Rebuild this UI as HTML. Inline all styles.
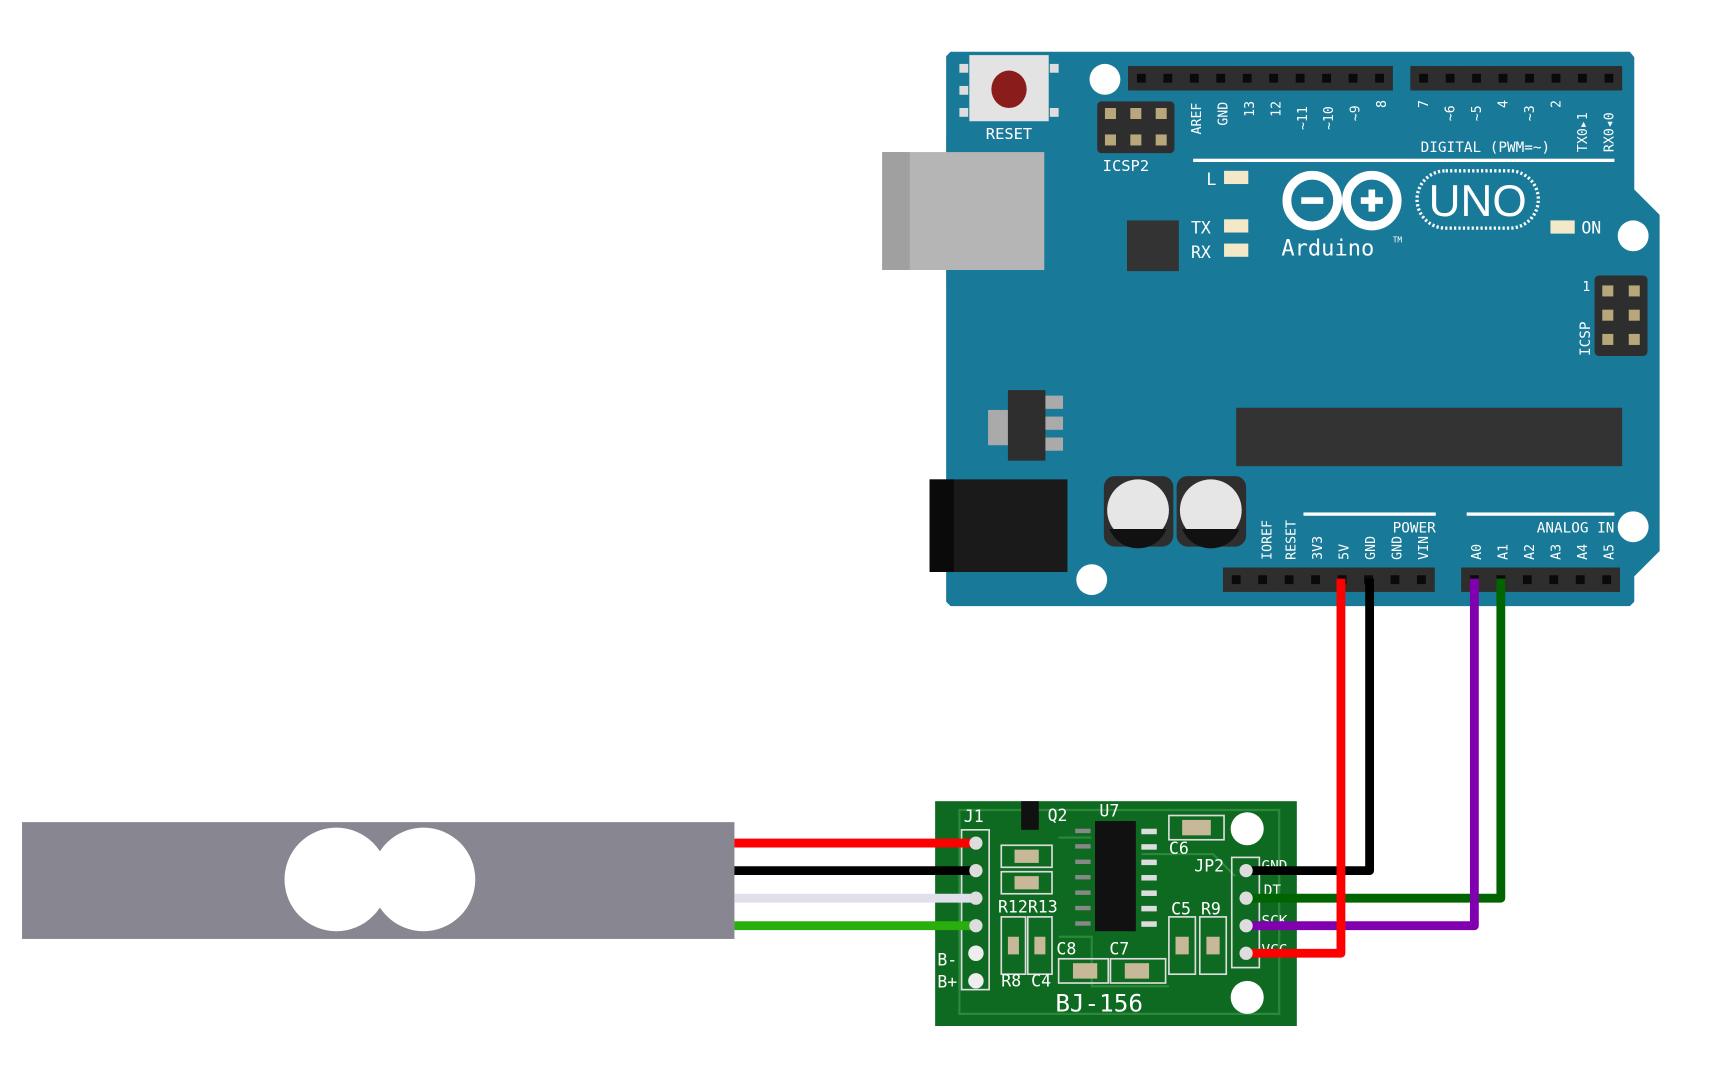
<!DOCTYPE html>
<html><head><meta charset="utf-8"><style>
html,body{margin:0;padding:0;background:#fff;width:1728px;height:1080px;overflow:hidden}
svg{display:block}
text{font-family:"DejaVu Sans Mono","Liberation Mono",monospace;fill:#fff}
</style></head><body>
<svg width="1728" height="1080" viewBox="0 0 1567 980" preserveAspectRatio="none" xmlns="http://www.w3.org/2000/svg">
<defs>
<g id="pin"><rect x="-12" y="0" width="24" height="22" fill="#2e2e2e"/><rect x="-4" y="7" width="8" height="8" fill="#0a0a0a"/></g>
<g id="pad"><rect x="-5" y="-5" width="10" height="10" fill="#b8a77a"/></g>
</defs>
<rect x="858" y="125" width="16" height="133" fill="#c9c9c9"/>
<path d="M862,47 L1478,47 L1482,52 L1482,172 L1505,195 L1505,500 L1482,523 L1482,546 L1478,550 L862,550 L858,546 L858,51 Z" fill="#187998"/>
<rect x="800" y="138" width="147" height="107" fill="#b5b5b5"/>
<rect x="800" y="138" width="25" height="107" fill="#a0a0a0"/>
<rect x="870" y="58" width="8" height="8" fill="#ddd"/><rect x="870" y="78" width="8" height="8" fill="#ddd"/><rect x="870" y="98" width="8" height="8" fill="#ddd"/>
<rect x="952" y="58" width="8" height="8" fill="#ddd"/><rect x="952" y="98" width="8" height="8" fill="#ddd"/>
<rect x="879" y="50" width="72" height="60" fill="#e3e3e3"/>
<ellipse cx="915" cy="81" rx="16" ry="17" fill="#8b1c1c"/>
<text x="915" y="126" font-size="14" text-anchor="middle">RESET</text>
<circle cx="1002" cy="72" r="14" fill="#fff"/>
<circle cx="1481" cy="214" r="14" fill="#fff"/>
<circle cx="1481" cy="478" r="14" fill="#fff"/>
<circle cx="990" cy="526" r="14" fill="#fff"/>
<rect x="995" y="92" width="70" height="47" rx="4" fill="#2e2e2e"/>
<use href="#pad" x="1007" y="103"/><use href="#pad" x="1030" y="103"/><use href="#pad" x="1053" y="103"/>
<use href="#pad" x="1007" y="127"/><use href="#pad" x="1030" y="127"/><use href="#pad" x="1053" y="127"/>
<text x="1021" y="155" font-size="14" text-anchor="middle">ICSP2</text>
<rect x="1023" y="60" width="240" height="22" fill="#2e2e2e"/>
<rect x="1279" y="60" width="190" height="22" fill="#2e2e2e"/>
<g>
<use href="#pin" x="1035" y="60"/><use href="#pin" x="1059" y="60"/><use href="#pin" x="1083" y="60"/><use href="#pin" x="1107" y="60"/><use href="#pin" x="1131" y="60"/><use href="#pin" x="1155" y="60"/><use href="#pin" x="1179" y="60"/><use href="#pin" x="1203" y="60"/><use href="#pin" x="1227" y="60"/><use href="#pin" x="1251" y="60"/>
<use href="#pin" x="1291" y="60"/><use href="#pin" x="1315" y="60"/><use href="#pin" x="1339" y="60"/><use href="#pin" x="1363" y="60"/><use href="#pin" x="1387" y="60"/><use href="#pin" x="1411" y="60"/><use href="#pin" x="1435" y="60"/><use href="#pin" x="1459" y="60"/>
</g>
<g font-size="12">
<text transform="translate(1089,122) rotate(-90)">AREF</text>
<text transform="translate(1113,114) rotate(-90)">GND</text>
<text transform="translate(1137,106) rotate(-90)">13</text>
<text transform="translate(1161,106) rotate(-90)">12</text>
<text transform="translate(1185,118) rotate(-90)">~11</text>
<text transform="translate(1209,118) rotate(-90)">~10</text>
<text transform="translate(1233,110) rotate(-90)">~9</text>
<text transform="translate(1257,98) rotate(-90)">8</text>
<text transform="translate(1295,98) rotate(-90)">7</text>
<text transform="translate(1319,110) rotate(-90)">~6</text>
<text transform="translate(1343,110) rotate(-90)">~5</text>
<text transform="translate(1367,98) rotate(-90)">4</text>
<text transform="translate(1391,110) rotate(-90)">~3</text>
<text transform="translate(1415,98) rotate(-90)">2</text>
<text transform="translate(1439,138) rotate(-90)">TX0▸1</text>
<text transform="translate(1463,138) rotate(-90)">RX0◂0</text>
</g>
<text x="1347" y="138" font-size="13" text-anchor="middle">DIGITAL (PWM=~)</text>
<rect x="1082" y="144" width="382" height="3" fill="#fff"/>
<text x="1094" y="168" font-size="15">L</text><rect x="1110" y="155" width="22" height="12" fill="#f3e9c8"/>
<text x="1080" y="212" font-size="15">TX</text><rect x="1110" y="199" width="22" height="12" fill="#f3e9c8"/>
<text x="1080" y="234" font-size="15">RX</text><rect x="1110" y="221" width="22" height="12" fill="#f3e9c8"/>
<rect x="1022" y="200" width="47" height="46" fill="#333"/>
<g fill="none" stroke="#fff" stroke-width="8">
<circle cx="1190" cy="182" r="23"/><circle cx="1244" cy="182" r="23"/>
</g>
<rect x="1180" y="179" width="20" height="6" fill="#fff"/>
<rect x="1234" y="179" width="20" height="6" fill="#fff"/><rect x="1241" y="172" width="6" height="20" fill="#fff"/>
<rect x="1285" y="155" width="110" height="52" rx="26" fill="none" stroke="#fff" stroke-width="3" stroke-dasharray="2 2"/>
<text x="1340" y="196" font-size="40" text-anchor="middle" style="font-family:'Liberation Sans',sans-serif">UNO</text>
<text x="1162" y="232" font-size="20">Arduino</text><text x="1263" y="220" font-size="7">TM</text>
<rect x="1406" y="200" width="22" height="12" fill="#f3e9c8"/><text x="1434" y="212" font-size="15">ON</text>
<rect x="1446" y="250" width="48" height="73" rx="4" fill="#2e2e2e"/>
<use href="#pad" x="1458" y="264"/><use href="#pad" x="1482" y="264"/><use href="#pad" x="1458" y="286"/><use href="#pad" x="1482" y="286"/><use href="#pad" x="1458" y="308"/><use href="#pad" x="1482" y="308"/>
<text x="1435" y="264" font-size="12">1</text>
<text transform="translate(1442,323) rotate(-90)" font-size="13">ICSP</text>
<rect x="1121" y="370" width="350" height="53" fill="#333"/>
<rect x="896" y="372" width="20" height="32" fill="#aaa"/>
<rect x="946" y="359" width="18" height="12" fill="#aaa"/><rect x="946" y="378" width="18" height="12" fill="#aaa"/><rect x="946" y="397" width="18" height="12" fill="#aaa"/>
<rect x="914" y="354" width="34" height="64" fill="#2e2e2e"/>
<rect x="843" y="435" width="125" height="84" fill="#1a1a1a"/>
<rect x="843" y="435" width="22" height="84" fill="#0a0a0a"/>
<rect x="1001" y="432" width="63" height="64" rx="10" fill="#2e2e2e"/>
<rect x="1067" y="432" width="63" height="64" rx="10" fill="#2e2e2e"/>
<circle cx="1032" cy="463" r="28" fill="#e6e6e6"/><circle cx="1098" cy="463" r="28" fill="#e6e6e6"/>
<path d="M1006,480 A28,28 0 0 0 1058,480 Z" fill="#111"/><path d="M1072,480 A28,28 0 0 0 1124,480 Z" fill="#111"/>
<rect x="1110" y="515" width="191" height="22" fill="#2e2e2e"/>
<rect x="1326" y="515" width="143" height="22" fill="#2e2e2e"/>
<use href="#pin" x="1121" y="515"/><use href="#pin" x="1145" y="515"/><use href="#pin" x="1169" y="515"/><use href="#pin" x="1193" y="515"/><use href="#pin" x="1217" y="515"/><use href="#pin" x="1241" y="515"/><use href="#pin" x="1265" y="515"/><use href="#pin" x="1289" y="515"/>
<use href="#pin" x="1337" y="515"/><use href="#pin" x="1361" y="515"/><use href="#pin" x="1385" y="515"/><use href="#pin" x="1409" y="515"/><use href="#pin" x="1433" y="515"/><use href="#pin" x="1457" y="515"/>
<rect x="1182" y="465" width="120" height="3" fill="#fff"/>
<rect x="1330" y="465" width="134" height="3" fill="#fff"/>
<text x="1302" y="483" font-size="13" text-anchor="end">POWER</text>
<text x="1464" y="483" font-size="13" text-anchor="end">ANALOG IN</text>
<g font-size="12">
<text transform="translate(1153,508) rotate(-90)">IOREF</text>
<text transform="translate(1175,508) rotate(-90)">RESET</text>
<text transform="translate(1199,508) rotate(-90)">3V3</text>
<text transform="translate(1223,508) rotate(-90)">5V</text>
<text transform="translate(1247,508) rotate(-90)">GND</text>
<text transform="translate(1271,508) rotate(-90)">GND</text>
<text transform="translate(1295,508) rotate(-90)">VIN</text>
<text transform="translate(1343,508) rotate(-90)">A0</text>
<text transform="translate(1367,508) rotate(-90)">A1</text>
<text transform="translate(1391,508) rotate(-90)">A2</text>
<text transform="translate(1415,508) rotate(-90)">A3</text>
<text transform="translate(1439,508) rotate(-90)">A4</text>
<text transform="translate(1463,508) rotate(-90)">A5</text>
</g>
<rect x="20" y="746" width="646" height="106" fill="#878691"/>
<ellipse cx="305" cy="798" rx="47" ry="47" fill="#fff"/>
<ellipse cx="384" cy="798" rx="47" ry="47" fill="#fff"/>
<rect x="848" y="727" width="328" height="204" fill="#0e6a20"/>
<g fill="none" stroke="#2a8a3a" stroke-width="2">
<path d="M870,735 H1160 V920 H870 Z"/><path d="M960,760 H990"/><path d="M1035,775 H1100 L1120,795"/><path d="M960,850 H990 V895 H1060"/>
</g>
<rect x="872" y="753" width="25" height="145" fill="none" stroke="#ddd" stroke-width="1.5"/>
<rect x="1117" y="778" width="25" height="100" fill="none" stroke="#ddd" stroke-width="1.5"/>
<circle cx="885" cy="865" r="7" fill="#eee"/><circle cx="885" cy="890" r="7" fill="#eee"/>
<circle cx="1131" cy="752" r="15" fill="#fff"/><circle cx="1131" cy="905" r="15" fill="#fff"/>
<rect x="926" y="727" width="16" height="26" fill="#111"/>
<rect x="993" y="745" width="37" height="100" fill="#111"/>
<g fill="#ddd"><rect x="1035" y="752" width="14" height="5"/><rect x="1035" y="766" width="14" height="5"/><rect x="1035" y="780" width="14" height="5"/><rect x="1035" y="794" width="14" height="5"/><rect x="1035" y="808" width="14" height="5"/><rect x="1035" y="822" width="14" height="5"/><rect x="1035" y="836" width="14" height="5"/></g>
<g fill="#888"><rect x="975" y="752" width="14" height="4"/><rect x="975" y="766" width="14" height="4"/><rect x="975" y="780" width="14" height="4"/><rect x="975" y="794" width="14" height="4"/><rect x="975" y="808" width="14" height="4"/><rect x="975" y="822" width="14" height="4"/><rect x="975" y="836" width="14" height="4"/></g>
<g fill="none" stroke="#ddd" stroke-width="1.5">
<rect x="908" y="767" width="46" height="20"/><rect x="908" y="791" width="46" height="20"/>
<rect x="908" y="832" width="22" height="52"/><rect x="932" y="832" width="22" height="52"/>
<rect x="960" y="870" width="45" height="22"/><rect x="1007" y="870" width="50" height="22"/>
<rect x="1060" y="832" width="24" height="52"/><rect x="1088" y="832" width="24" height="52"/>
<rect x="1060" y="740" width="50" height="22"/>
</g>
<g fill="#c8b89a"><rect x="920" y="771" width="22" height="12"/><rect x="920" y="795" width="22" height="12"/><rect x="914" y="850" width="10" height="16"/><rect x="938" y="850" width="10" height="16"/><rect x="973" y="874" width="22" height="14"/><rect x="1020" y="874" width="22" height="14"/><rect x="1066" y="850" width="12" height="16"/><rect x="1094" y="850" width="12" height="16"/><rect x="1072" y="744" width="26" height="14"/></g>
<g font-size="15" style="font-family:'Liberation Sans',sans-serif">
<text x="874" y="746">J1</text><text x="950" y="745">Q2</text><text x="997" y="741">U7</text><text x="1060" y="775">C6</text>
<text x="1083" y="791">JP2</text><text x="1144" y="790" font-size="13">GND</text><text x="1146" y="812" font-size="13">DT</text><text x="1144" y="840" font-size="13">SCK</text><text x="1144" y="866" font-size="13">VCC</text>
<text x="905" y="828">R12R13</text><text x="1062" y="830">C5 R9</text><text x="958" y="866">C8</text><text x="1006" y="866">C7</text>
<text x="908" y="895">R8 C4</text><text x="850" y="876">B-</text><text x="850" y="896">B+</text>
<text x="957" y="918" font-size="22">BJ-156</text>
</g>
<g fill="none" stroke-width="8" stroke-linejoin="round">
<path d="M666,765 H885" stroke="#f00"/>
<path d="M666,790 H885" stroke="#000"/>
<path d="M666,815 H885" stroke="#e0e0ec"/>
<path d="M666,840 H885" stroke="#2aae0e"/>
<path d="M1130,790 H1242 V525" stroke="#000"/>
<path d="M1130,815 H1361 V525" stroke="#006400"/>
<path d="M1130,840 H1337 V525" stroke="#8000b0"/>
<path d="M1130,865 H1216 V525" stroke="#f00"/>
</g>
<g fill="#ddd"><circle cx="885" cy="765" r="6"/><circle cx="885" cy="790" r="6"/><circle cx="885" cy="815" r="6"/><circle cx="885" cy="840" r="6"/><circle cx="1130" cy="790" r="6"/><circle cx="1130" cy="815" r="6"/><circle cx="1130" cy="840" r="6"/><circle cx="1130" cy="865" r="6"/></g>
</svg>
</body></html>
